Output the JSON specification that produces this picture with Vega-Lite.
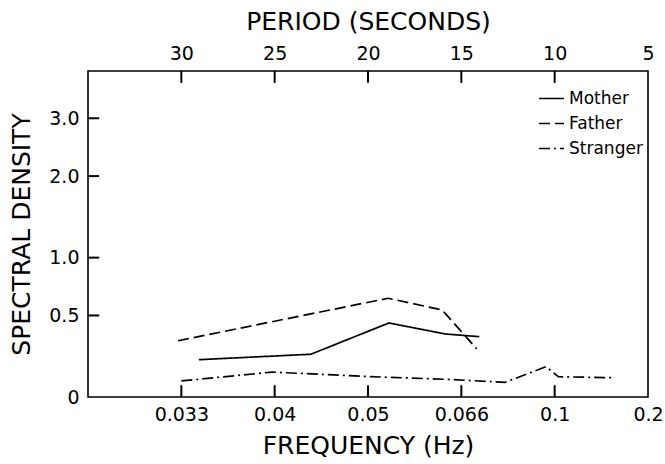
{
  "$schema": "https://vega.github.io/schema/vega-lite/v6.json",
  "width": 560,
  "height": 326,
  "autosize": {"type": "none"},
  "padding": {"left": 88, "top": 71, "right": 17, "bottom": 67},
  "background": "white",
  "config": {
    "font": "DejaVu Sans",
    "view": {"stroke": "black", "strokeWidth": 1.6},
    "axis": {
      "grid": false,
      "domain": false,
      "ticks": false,
      "labelColor": "black",
      "labelFontSize": 19,
      "labelFlush": false,
      "labelOverlap": false,
      "titleColor": "black",
      "titleFontSize": 25,
      "titleFontWeight": "normal"
    }
  },
  "datasets": {
    "curves": [
      {"parent": "Mother", "period_s": 29.06, "density": 0.204},
      {"parent": "Mother", "period_s": 23.06, "density": 0.237},
      {"parent": "Mother", "period_s": 18.88, "density": 0.445},
      {"parent": "Mother", "period_s": 15.85, "density": 0.368},
      {"parent": "Mother", "period_s": 14.04, "density": 0.35},
      {"parent": "Father", "period_s": 30.18, "density": 0.323},
      {"parent": "Father", "period_s": 18.92, "density": 0.634},
      {"parent": "Father", "period_s": 16.03, "density": 0.542},
      {"parent": "Father", "period_s": 14.17, "density": 0.27},
      {"parent": "Stranger", "period_s": 30.0, "density": 0.083},
      {"parent": "Stranger", "period_s": 25.15, "density": 0.132},
      {"parent": "Stranger", "period_s": 20.0, "density": 0.107},
      {"parent": "Stranger", "period_s": 15.85, "density": 0.092},
      {"parent": "Stranger", "period_s": 12.65, "density": 0.076},
      {"parent": "Stranger", "period_s": 10.46, "density": 0.163},
      {"parent": "Stranger", "period_s": 9.8, "density": 0.106},
      {"parent": "Stranger", "period_s": 6.92, "density": 0.101}
    ],
    "xticks": [
      {"period_s": 30},
      {"period_s": 25},
      {"period_s": 20},
      {"period_s": 15},
      {"period_s": 10}
    ],
    "yticks": [
      {"density": 0.5},
      {"density": 1},
      {"density": 2},
      {"density": 3}
    ]
  },
  "data": {"name": "curves"},
  "layer": [
    {
      "mark": {"type": "line", "color": "black", "strokeWidth": 1.7},
      "encoding": {
        "x": {
          "field": "period_s",
          "type": "quantitative",
          "scale": {"domain": [35, 5], "nice": false, "zero": false},
          "axis": {
            "orient": "bottom",
            "values": [30, 25, 20, 15, 10, 5],
            "labelExpr": "datum.value == 30 ? '0.033' : datum.value == 25 ? '0.04' : datum.value == 20 ? '0.05' : datum.value == 15 ? '0.066' : datum.value == 10 ? '0.1' : '0.2'",
            "labelPadding": 8,
            "title": "FREQUENCY (Hz)",
            "titlePadding": 9
          }
        },
        "y": {
          "field": "density",
          "type": "quantitative",
          "scale": {"type": "symlog", "constant": 1, "domain": [0, 4.06], "nice": false},
          "axis": {
            "values": [0, 0.5, 1, 2, 3],
            "labelExpr": "datum.value == 0 ? '0' : format(datum.value, '.1f')",
            "labelPadding": 9,
            "title": "SPECTRAL DENSITY",
            "titlePadding": 14
          }
        },
        "strokeDash": {
          "field": "parent",
          "type": "nominal",
          "scale": {
            "domain": ["Mother", "Father", "Stranger"],
            "range": [[1, 0], [11, 5], [11, 4, 2, 4]]
          },
          "legend": {
            "title": null,
            "orient": "none",
            "legendX": 450,
            "legendY": 14,
            "symbolType": "stroke",
            "symbolStrokeColor": "black",
            "symbolStrokeWidth": 1.6,
            "symbolSize": 625,
            "labelFontSize": 17,
            "labelColor": "black",
            "labelOffset": 4,
            "rowPadding": 3
          }
        }
      }
    },
    {
      "mark": {"type": "rule", "opacity": 0},
      "encoding": {
        "x": {
          "field": "period_s",
          "type": "quantitative",
          "axis": {
            "orient": "top",
            "values": [30, 25, 20, 15, 10, 5],
            "labelPadding": 8,
            "title": "PERIOD (SECONDS)",
            "titlePadding": 10
          }
        }
      }
    },
    {
      "data": {"name": "xticks"},
      "mark": {"type": "rule", "color": "black", "strokeWidth": 2},
      "encoding": {
        "x": {"field": "period_s", "type": "quantitative", "axis": null},
        "y": {"datum": 0, "type": "quantitative", "axis": null},
        "y2": {"datum": 0.06}
      }
    },
    {
      "data": {"name": "xticks"},
      "mark": {"type": "rule", "color": "black", "strokeWidth": 2},
      "encoding": {
        "x": {"field": "period_s", "type": "quantitative", "axis": null},
        "y": {"datum": 4.06, "type": "quantitative", "axis": null},
        "y2": {"datum": 3.77}
      }
    },
    {
      "data": {"name": "yticks"},
      "mark": {"type": "rule", "color": "black", "strokeWidth": 2},
      "encoding": {
        "x": {"datum": 35, "type": "quantitative", "axis": null},
        "x2": {"datum": 34.4},
        "y": {"field": "density", "type": "quantitative", "axis": null}
      }
    }
  ],
  "resolve": {"axis": {"x": "independent", "y": "independent"}}
}
